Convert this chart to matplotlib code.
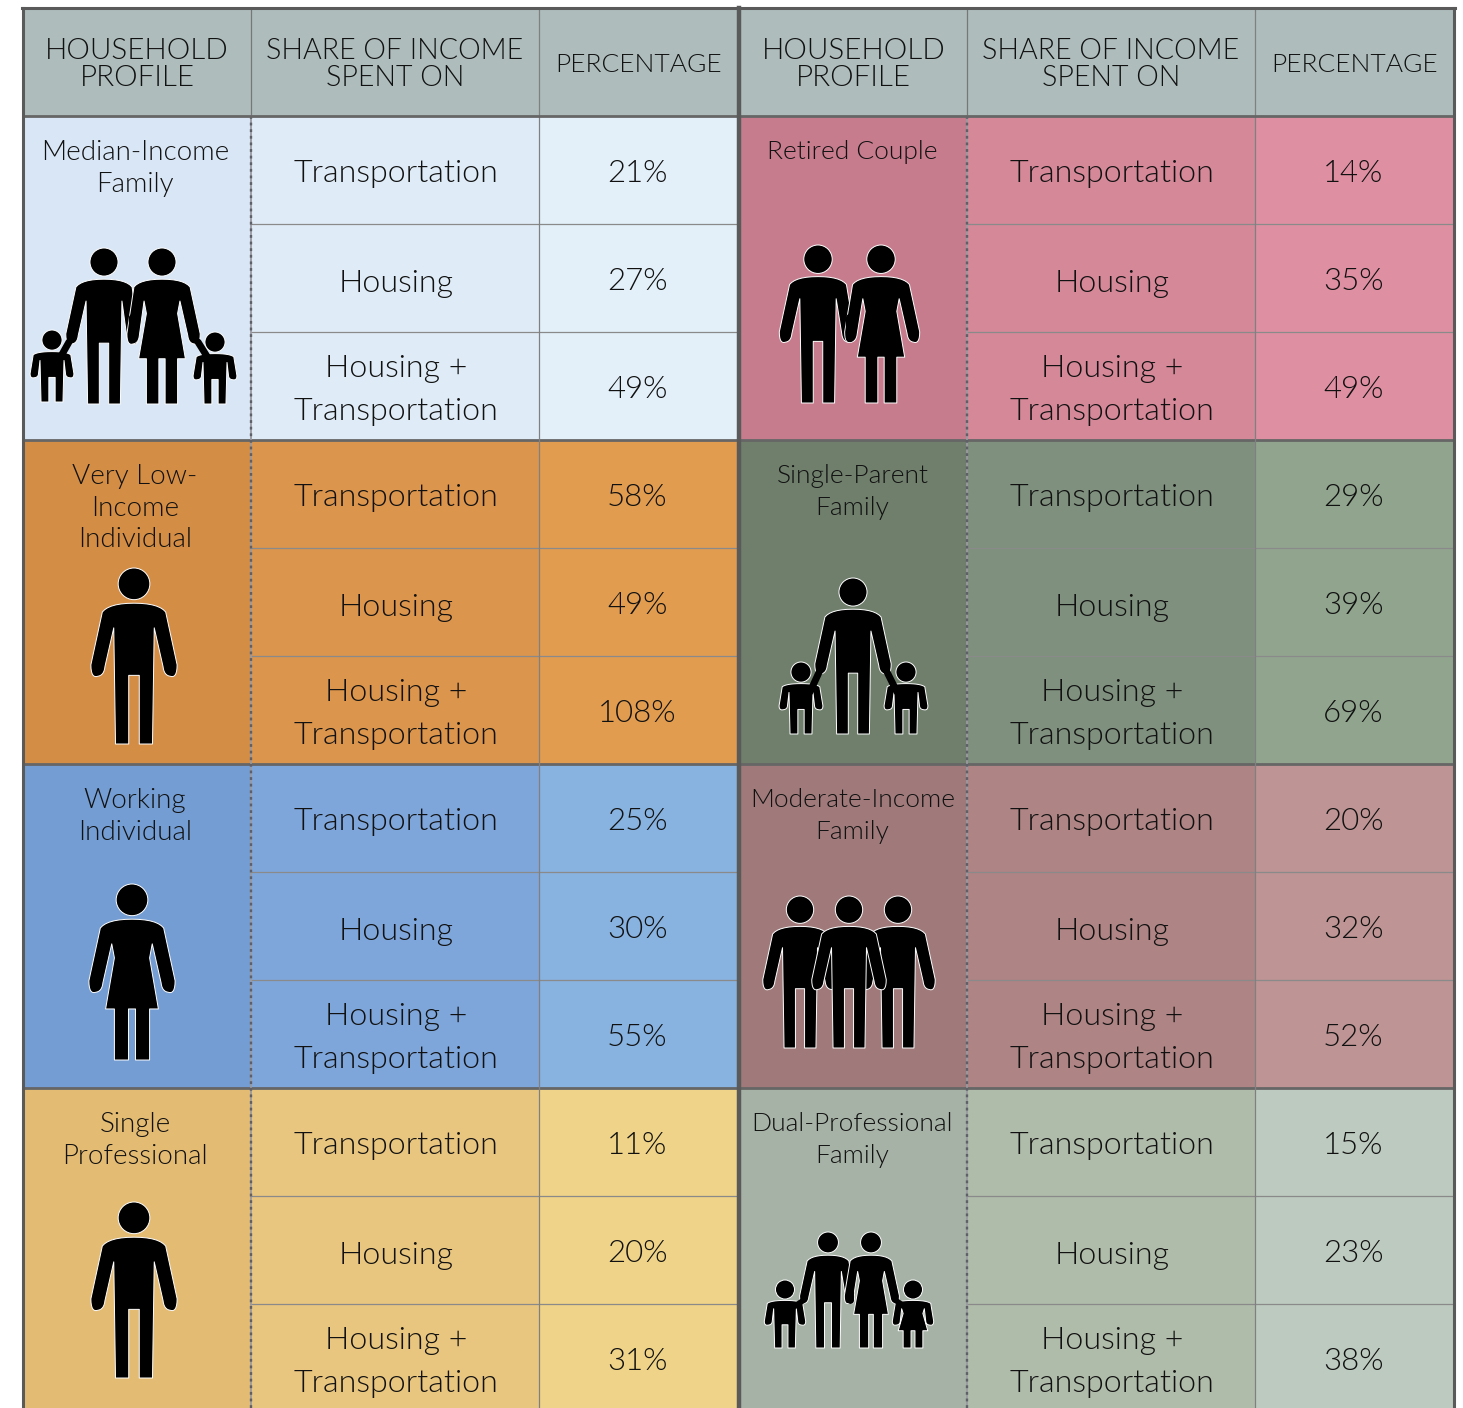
import numpy as np
import matplotlib
matplotlib.use("Agg")
import matplotlib.pyplot as plt
from matplotlib.patches import Polygon, Circle, Rectangle

plt.rcParams['font.family'] = ['Lato', 'DejaVu Sans']
plt.rcParams['font.weight'] = 300

W, H = 1463, 1408

headers = ["HOUSEHOLD\nPROFILE", "SHARE OF INCOME\nSPENT ON", "PERCENTAGE"]
header_sizes = [21.3, 20.6, 19]
shares = ["Transportation", "Housing", "Housing +\nTransportation"]

left_profiles = ["Median-Income\nFamily", "Very Low-\nIncome\nIndividual",
                 "Working\nIndividual", "Single\nProfessional"]
right_profiles = ["Retired Couple", "Single-Parent\nFamily",
                  "Moderate-Income\nFamily", "Dual-Professional\nFamily"]

left_pct = [[21, 27, 49], [58, 49, 108], [25, 30, 55], [11, 20, 31]]
right_pct = [[14, 35, 49], [29, 39, 69], [20, 32, 52], [15, 23, 38]]

# profile, share, percentage cell colours
left_colors = [("#d9e6f5", "#dfecf7", "#e3f0fa"),
               ("#d48d45", "#dc954d", "#e19c50"),
               ("#739dd3", "#7fa6db", "#88b2df"),
               ("#e3bb73", "#e9c67f", "#efd388")]
right_colors = [("#c67c8d", "#d48898", "#de90a2"),
                ("#6f7f6c", "#7f917e", "#91a58e"),
                ("#a07a7a", "#af8484", "#be9494"),
                ("#a6b2a6", "#b0bcaa", "#bdcabf")]
header_color = "#aebcbc"
text_color = "#111111"

col_left = [23, 251, 539, 738]
col_right = [740, 967, 1255, 1454]
head_top, head_bot, row_h = 8, 116, 108

fig = plt.figure(figsize=(W / 100, H / 100), dpi=100)
ax = fig.add_axes([0, 0, 1, 1])
ax.set_xlim(0, W)
ax.set_ylim(H, 0)
ax.axis("off")


def quad(p0, p1, p2, n=8):
    t = np.linspace(0, 1, n)[:, None]
    p0, p1, p2 = np.array(p0), np.array(p1), np.array(p2)
    return list((1 - t) ** 2 * p0 + 2 * t * (1 - t) * p1 + t ** 2 * p2)


def half_body(kind, hx, hy):
    """right half of a figure, unit = figure height, from neck to crotch"""
    pts = quad((0, .2), (.14, .2), (.18, .25))
    pts += [np.array((hx + .04, hy - .03))]
    pts += quad((hx + .04, hy - .03), (hx + .04, hy + .05), (hx, hy + .035))
    pts += quad((hx, hy + .035), (hx - .035, hy + .03), (hx - .04, hy - .02))
    pts += [np.array((.115, .34))]
    if kind == "woman":
        pts += [np.array((.1, .42)), np.array((.15, .71)),
                np.array((.1, .71)), np.array((.1, 1.0)),
                np.array((.02, 1.0)), np.array((.02, .71)), np.array((0, .71))]
    else:
        pts += [np.array((.105, 1.0)), np.array((.03, 1.0)),
                np.array((.03, .61)), np.array((0, .61))]
    return pts


def person(cx, top, bot, kind="man", hand_l=.205, hand_r=.205, hy=.58, z=5,
           child=False):
    h = bot - top
    sx, r = 1, .09
    y0, ys = 0, 1
    if child:
        # children are stockier: wider body, bigger head
        sx, r = 1.45, .14
        y0, ys = .3 - .2 * .875, .875
        hand_l = hand_r = .17
    right = half_body(kind, hand_r, hy)
    left = half_body(kind, hand_l, hy)
    pts = [(cx + p[0] * sx * h, top + (y0 + p[1] * ys) * h) for p in right]
    pts += [(cx - p[0] * sx * h, top + (y0 + p[1] * ys) * h) for p in reversed(left)]
    ax.add_patch(Polygon(pts, closed=True, fc="black", ec="white", lw=.7,
                         joinstyle="round", zorder=z))
    ax.add_patch(Circle((cx, top + r * h), r * h, fc="black", ec="white",
                        lw=.7, zorder=z))


def link(x0, y0, x1, y1, lw):
    ax.plot([x0, x1], [y0, y1], color="black", lw=lw, solid_capstyle="round",
            zorder=7)


def draw_icons():
    # median income family
    person(52, 330, 402, child=True)
    person(215, 332, 404, child=True)
    person(104, 248, 404, hand_r=.185)
    person(162, 248, 404, "woman", hand_l=.185)
    link(133, 318, 133, 338, 6)
    link(69, 342, 60, 358, 5)
    link(198, 342, 208, 358, 5)
    # retired couple
    person(818, 245, 403, hand_r=.19)
    person(881, 245, 403, "woman", hand_l=.19)
    link(849.5, 318, 849.5, 338, 6)
    # single parent
    person(801, 662, 734, child=True)
    person(906, 662, 734, child=True)
    person(853, 578, 734)
    link(821, 668, 810, 692, 5)
    link(885, 668, 897, 692, 5)
    # moderate income family
    person(800, 896, 1048)
    person(898, 896, 1048)
    person(849, 896, 1048, z=6)
    # dual professional family
    person(785, 1280, 1348, child=True)
    person(913, 1280, 1348, "woman", child=True)
    person(828, 1232, 1348, hand_r=.19)
    person(871, 1232, 1348, "woman", hand_l=.19)
    link(849.5, 1285, 849.5, 1300, 5)
    link(804, 1300, 795, 1306, 4)
    link(895, 1300, 904, 1306, 4)
    # single adults
    person(134, 568, 744)
    person(132, 884, 1060, "woman")
    person(134, 1202, 1378)


def draw_table(cols, profiles, pcts, colors, prof_size):
    x0, x1, x2, x3 = cols
    ax.add_patch(Rectangle((x0, head_top), x3 - x0, head_bot - head_top,
                           fc=header_color, ec="none", zorder=1))
    for lab, a, b, fs in zip(headers, cols[:-1], cols[1:], header_sizes):
        ax.text((a + b) / 2, 64.5, lab, ha="center", va="center", fontsize=fs,
                color=text_color, linespacing=1.08, zorder=4)
    for i, (prof, vals, cc) in enumerate(zip(profiles, pcts, colors)):
        top = head_bot + i * row_h * 3
        for c, a, b in zip(cc, cols[:-1], cols[1:]):
            ax.add_patch(Rectangle((a, top), b - a, row_h * 3, fc=c, ec="none",
                                   zorder=1))
        ax.text((x0 + x1) / 2 - 2 + (1 if x0 > 100 else 0), top + 24, prof,
                ha="center", va="top", fontsize=prof_size,
                color=text_color, linespacing=1.33 * 20 / prof_size, zorder=4)
        for j in range(3):
            cy = top + row_h * j + row_h / 2
            ax.text((x1 + x2) / 2 + 1, cy + (4 if j == 0 else 5 if j == 1 else 4),
                    shares[j], ha="center", va="center", fontsize=23.2,
                    color=text_color, linespacing=1.58, zorder=4)
            ax.text((x2 + x3) / 2 - 1, cy + 4, f"{vals[j]}%",
                    ha="center", va="center", fontsize=22.5, color=text_color,
                    zorder=4)
            if j:
                ax.plot([x1, x3], [top + row_h * j] * 2, color="#8a8a8a",
                        lw=.9, zorder=3)
        ax.plot([x0, x3], [top + row_h * 3] * 2, color="#666666", lw=2, zorder=3)
    # vertical rules
    ax.plot([x1, x1], [head_top, head_bot], color="#777777", lw=.9, zorder=3)
    ax.plot([x2, x2], [head_top, H], color="#808080", lw=.9, zorder=3)
    ax.plot([x1, x1], [head_bot, H], color="#9a9aa0", lw=1.3, zorder=3)
    ax.plot([x1, x1], [head_bot, H], color="#5f5f68", lw=1.7,
            linestyle=(0, (1.2, 1.6)), zorder=3)
    ax.plot([x0, x3], [head_bot, head_bot], color="#666666", lw=2, zorder=3)


draw_table(col_left, left_profiles, left_pct, left_colors, 20)
draw_table(col_right, right_profiles, right_pct, right_colors, 19)
draw_icons()

# outer frame, open at the bottom where the picture is cropped
ax.plot([23, 23], [H, head_top], color="#5a5a5a", lw=2.2, zorder=8)
ax.plot([22, 1455], [head_top, head_top], color="#5a5a5a", lw=2.2, zorder=8)
ax.plot([1454, 1454], [head_top, H], color="#5a5a5a", lw=2.2, zorder=8)
ax.plot([739, 739], [head_top, H], color="#5a5a5a", lw=3.2, zorder=8)

fig.savefig("out.png", dpi=100, facecolor="white")
